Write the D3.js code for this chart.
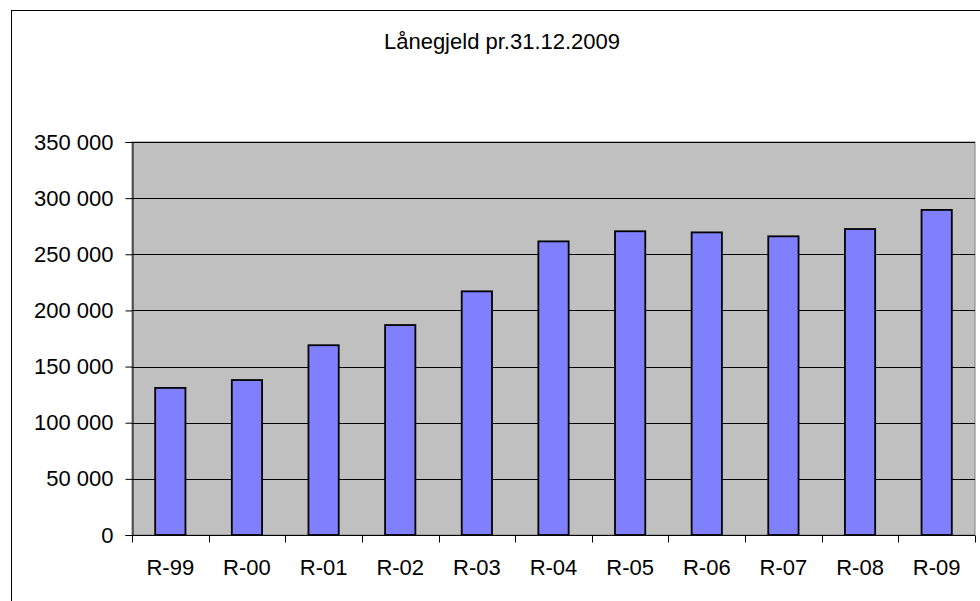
<!DOCTYPE html>
<html>
<head>
  <meta charset="utf-8">
  <title>Lånegjeld pr.31.12.2009</title>
  <style>
    body {
      margin: 0;
      background-color: white;
      font-family: "Liberation Sans", Arial, sans-serif;
    }
    .tick text {
      font-size: 22px;
      fill: black;
    }
  </style>
  <script src="https://d3js.org/d3.v7.min.js"></script>
</head>
<body>
  <svg id="chart" width="980" height="601"></svg>
  <script>
    // Data
    const categories = ["R-99", "R-00", "R-01", "R-02", "R-03", "R-04", "R-05", "R-06", "R-07", "R-08", "R-09"];
    const values = [131000, 138000, 169000, 187000, 217000, 261500, 270500, 269500, 266000, 272500, 289500];
    const yTicks = [0, 50000, 100000, 150000, 200000, 250000, 300000, 350000];
    const title = "Lånegjeld pr.31.12.2009";

    const svg = d3.select("#chart");

    // outer chart frame (cut off at right and bottom)
    svg.append("rect")
      .attr("x", 11.5)
      .attr("y", 10.5)
      .attr("width", 1000)
      .attr("height", 700)
      .attr("fill", "white")
      .attr("stroke", "black")
      .attr("stroke-width", 1);

    const margin = {top: 142, left: 132, right: 975, bottom: 535};

    const x = d3.scaleBand()
      .domain(categories)
      .range([margin.left, margin.right])
      .padding(0);

    const y = d3.scaleLinear()
      .domain([0, 350000])
      .range([margin.bottom, margin.top]);

    // plot area
    svg.append("rect")
      .attr("x", margin.left)
      .attr("y", margin.top)
      .attr("width", margin.right - margin.left)
      .attr("height", margin.bottom - margin.top)
      .attr("fill", "#c0c0c0")
      .attr("stroke", "#808080")
      .attr("stroke-width", 1);

    // gridlines
    svg.append("g")
      .selectAll("line")
      .data(yTicks.filter(d => d > 0))
      .enter()
      .append("line")
      .attr("x1", margin.left)
      .attr("x2", margin.right)
      .attr("y1", d => Math.round(y(d)) + 0.5)
      .attr("y2", d => Math.round(y(d)) + 0.5)
      .attr("stroke", "black")
      .attr("stroke-width", 1);

    // bars
    const barW = x.bandwidth() * 0.395;
    svg.append("g")
      .selectAll("rect")
      .data(values)
      .enter()
      .append("rect")
      .attr("x", (d, i) => x(categories[i]) + (x.bandwidth() - barW) / 2)
      .attr("y", d => y(d))
      .attr("width", barW)
      .attr("height", d => y(0) - y(d))
      .attr("fill", "#8080ff")
      .attr("stroke", "black")
      .attr("stroke-width", 1.8);

    // y axis
    svg.append("g")
      .attr("transform", `translate(${margin.left + 0.5},0)`)
      .call(d3.axisLeft(y).tickValues(yTicks).tickSize(7).tickPadding(12)
        .tickFormat(d => d3.format(",")(d).replace(/,/g, " ")))
      .call(g => g.select(".domain").attr("stroke", "black"))
      .call(g => g.selectAll(".tick line").attr("stroke", "black"))
      .call(g => g.selectAll(".tick text").attr("font-family", "'Liberation Sans', Arial, sans-serif"));

    // x axis, ticks at category boundaries
    const xAxis = svg.append("g")
      .attr("transform", `translate(0,${margin.bottom + 0.5})`)
      .call(d3.axisBottom(x).tickSize(0).tickPadding(24))
      .call(g => g.select(".domain").remove())
      .call(g => g.selectAll(".tick text").attr("font-family", "'Liberation Sans', Arial, sans-serif"));

    xAxis.append("line")
      .attr("x1", margin.left)
      .attr("x2", margin.right)
      .attr("stroke", "black");

    xAxis.selectAll(".boundary")
      .data(categories.concat(["end"]))
      .enter()
      .append("line")
      .attr("class", "boundary")
      .attr("x1", (d, i) => Math.round(margin.left + i * x.step()) + 0.5)
      .attr("x2", (d, i) => Math.round(margin.left + i * x.step()) + 0.5)
      .attr("y1", 0)
      .attr("y2", 7)
      .attr("stroke", "black");

    // title
    svg.append("text")
      .attr("x", 502)
      .attr("y", 49)
      .attr("text-anchor", "middle")
      .attr("font-size", 22)
      .attr("fill", "black")
      .text(title);
  </script>
</body>
</html>
